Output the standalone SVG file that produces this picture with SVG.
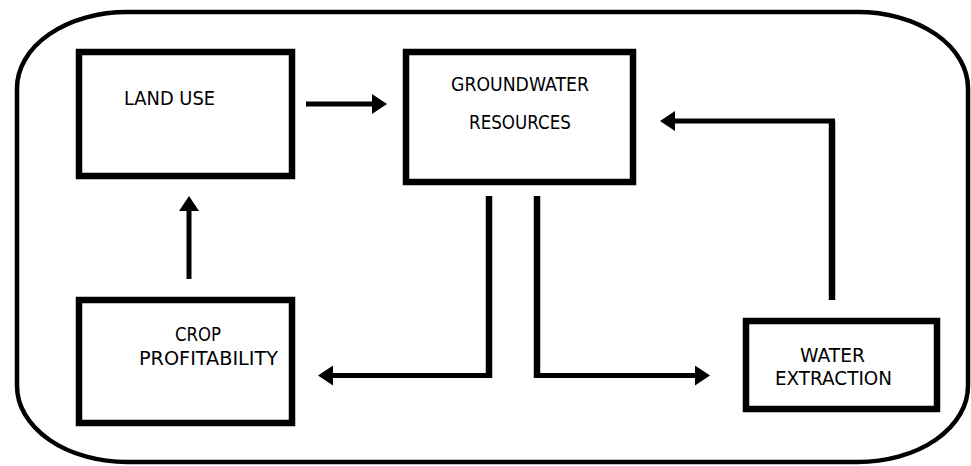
<svg xmlns="http://www.w3.org/2000/svg" width="971" height="466" viewBox="0 0 971 466">
  <defs>
    <marker id="ah" markerUnits="userSpaceOnUse" viewBox="0 0 15 20" refX="3" refY="10" markerWidth="15" markerHeight="20" orient="auto">
      <path d="M0,0 L15,10 L0,20 Z" fill="#000"/>
    </marker>
    <style>
      .box { fill: #fff; stroke: #000; stroke-width: 6.5; }
      .frame { fill: #fff; stroke: #000; stroke-width: 4.5; }
      .lbl { font-family: "DejaVu Sans", Verdana, sans-serif; font-size: 20px; fill: #000; }
      .c { text-anchor: middle; }
      .thin { fill: none; stroke: #000; stroke-width: 5; }
      .thick { fill: none; stroke: #000; stroke-width: 6.5; }
    </style>
  </defs>
  <rect width="971" height="466" fill="#fff"/>
  <rect class="frame" x="17" y="12" width="951" height="450" rx="110" ry="76"/>

  <g id="land-use">
    <rect class="box" x="79" y="52" width="213" height="124"/>
    <text class="lbl" x="124" y="105" textLength="91" lengthAdjust="spacingAndGlyphs">LAND USE</text>
  </g>
  <g id="groundwater-resources">
    <rect class="box" x="406" y="52" width="227" height="130"/>
    <text class="lbl" x="451" y="91" textLength="138" lengthAdjust="spacingAndGlyphs">GROUNDWATER</text>
    <text class="lbl" x="469" y="129" textLength="102" lengthAdjust="spacingAndGlyphs">RESOURCES</text>
  </g>
  <g id="crop-profitability">
    <rect class="box" x="79" y="300" width="213" height="123"/>
    <text class="lbl" x="175" y="341" textLength="46" lengthAdjust="spacingAndGlyphs">CROP</text>
    <text class="lbl" x="139" y="365" textLength="139" lengthAdjust="spacingAndGlyphs">PROFITABILITY</text>
  </g>
  <g id="water-extraction">
    <rect class="box" x="746" y="321" width="191" height="88"/>
    <text class="lbl" x="800" y="362" textLength="65" lengthAdjust="spacingAndGlyphs">WATER</text>
    <text class="lbl" x="775" y="385" textLength="117" lengthAdjust="spacingAndGlyphs">EXTRACTION</text>
  </g>

  <g id="connectors">
    <path class="thin" d="M306,104 H375" marker-end="url(#ah)"/>
    <path class="thin" d="M189,279 V208" marker-end="url(#ah)"/>
    <path class="thick" d="M832,300 V121"/>
    <path class="thin" d="M835,121 H672" marker-end="url(#ah)"/>
    <path class="thick" d="M489,196 V378"/>
    <path class="thin" d="M492,375.5 H330" marker-end="url(#ah)"/>
    <path class="thick" d="M537,196 V378"/>
    <path class="thin" d="M534,375.5 H698" marker-end="url(#ah)"/>
  </g>
</svg>
